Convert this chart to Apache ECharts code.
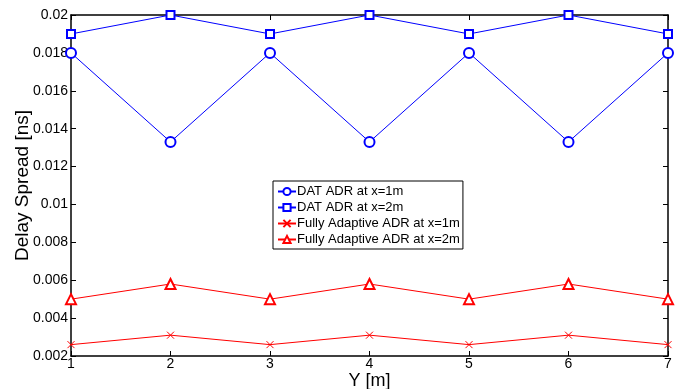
<!DOCTYPE html>
<html>
<head>
<meta charset="utf-8">
<script src="https://cdn.jsdelivr.net/npm/echarts@6/dist/echarts.min.js"></script>
<style>
  html, body { margin: 0; padding: 0; background: #fff; }
  #chart { width: 684px; height: 389px; }
</style>
</head>
<body>
<div id="chart"></div>
<script>
// positions along the x axis (Y [m])
const positions = [1, 2, 3, 4, 5, 6, 7]
const datX1 = [0.018, 0.0133, 0.018, 0.0133, 0.018, 0.0133, 0.018]
const datX2 = [0.019, 0.02, 0.019, 0.02, 0.019, 0.02, 0.019]
const fullyX1 = [0.0026, 0.0031, 0.0026, 0.0031, 0.0026, 0.0031, 0.0026]
const fullyX2 = [0.005, 0.0058, 0.005, 0.0058, 0.005, 0.0058, 0.005]
const seriesNames = ['DAT ADR at x=1m', 'DAT ADR at x=2m', 'Fully Adaptive ADR at x=1m', 'Fully Adaptive ADR at x=2m']

const font = 'Liberation Sans, Arial, sans-serif'
const crossPath = 'path://M0,0L10,10M10,0L0,10'

function pairs(vals) {
  return positions.map((p, i) => [p, vals[i]])
}

function mkSeries(name, vals, color, symbol, size) {
  return {
    name: name,
    type: 'line',
    data: pairs(vals),
    symbol: symbol,
    symbolSize: size,
    showAllSymbol: true,
    lineStyle: { color: color, width: 1 },
    itemStyle: { color: color, borderColor: color, borderWidth: 1 },
    emphasis: { disabled: true },
    animation: false
  }
}

const chart = echarts.init(document.getElementById('chart'))

const axisTick = { show: true, inside: true, length: 5, lineStyle: { color: '#000', width: 1 } }
const axisLine = { show: true, lineStyle: { color: '#000', width: 1.5 } }

chart.setOption({
  backgroundColor: '#fff',
  grid: { left: 71, right: 16, top: 15, bottom: 33, outerBoundsMode: 'none' },
  legend: {
    orient: 'vertical',
    left: 273,
    top: 181,
    data: seriesNames,
    itemWidth: 18,
    itemHeight: 9,
    itemGap: 3,
    padding: [4, 3, 3, 4],
    borderColor: '#000',
    borderWidth: 1,
    backgroundColor: '#fff',
    textStyle: { fontFamily: font, fontSize: 13, color: '#000', padding: [0, 0, 0, -4] }
  },
  xAxis: [{
    type: 'value',
    min: 1,
    max: 7,
    interval: 1,
    name: 'Y [m]',
    nameLocation: 'middle',
    nameGap: 16,
    nameMoveOverlap: false,
    nameTextStyle: { fontFamily: font, fontSize: 18, color: '#000' },
    axisLine: axisLine,
    axisTick: axisTick,
    axisLabel: { fontFamily: font, fontSize: 14, color: '#000', margin: 1 },
    splitLine: { show: false }
  }, {
    type: 'value',
    position: 'top',
    min: 1,
    max: 7,
    interval: 1,
    axisLine: axisLine,
    axisTick: axisTick,
    axisLabel: { show: false },
    splitLine: { show: false }
  }],
  yAxis: [{
    type: 'value',
    min: 0.002,
    max: 0.02,
    interval: 0.002,
    name: 'Delay Spread [ns]',
    nameLocation: 'middle',
    nameGap: 39,
    nameMoveOverlap: false,
    nameTextStyle: { fontFamily: font, fontSize: 19, color: '#000' },
    axisLine: axisLine,
    axisTick: axisTick,
    axisLabel: {
      fontFamily: font, fontSize: 14, color: '#000', margin: 3,
      formatter: v => String(+v.toFixed(4))
    },
    splitLine: { show: false }
  }, {
    type: 'value',
    position: 'right',
    min: 0.002,
    max: 0.02,
    interval: 0.002,
    axisLine: axisLine,
    axisTick: axisTick,
    axisLabel: { show: false },
    splitLine: { show: false }
  }],
  series: [
    mkSeries(seriesNames[0], datX1, '#0000ff', 'emptyCircle', 10),
    mkSeries(seriesNames[1], datX2, '#0000ff', 'emptyRect', 8),
    mkSeries(seriesNames[2], fullyX1, '#ff0000', crossPath, 7),
    mkSeries(seriesNames[3], fullyX2, '#ff0000', 'emptyTriangle', 10)
  ]
})
</script>
</body>
</html>
